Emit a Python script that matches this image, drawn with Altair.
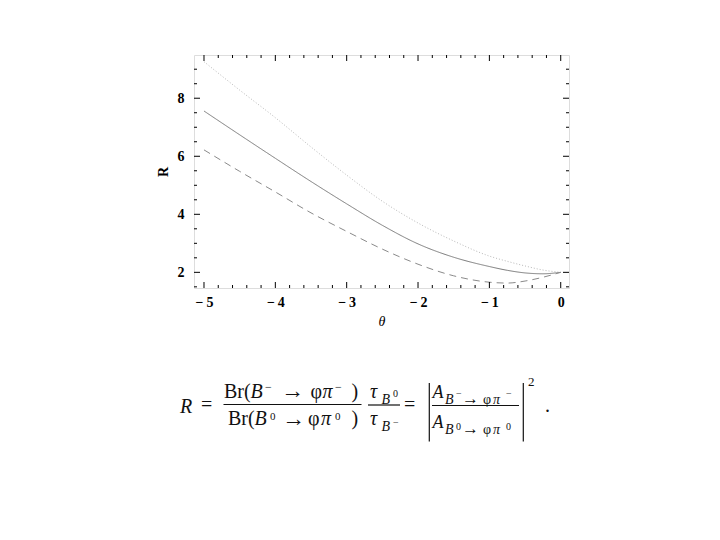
import altair as alt
import pandas as pd

# ---- chart data ----
theta = [-5.0, -4.5, -4.0, -3.5, -3.0, -2.5, -2.0, -1.5, -1.0, -0.75, -0.5, -0.25, 0.0]
r_solid = [7.56, 6.74, 5.93, 5.13, 4.36, 3.62, 2.98, 2.52, 2.20, 2.07, 1.98, 1.95, 2.00]
r_dotted = [9.26, 8.28, 7.33, 6.32, 5.35, 4.45, 3.70, 3.08, 2.56, 2.38, 2.22, 2.08, 2.00]
r_dashed = [6.22, 5.48, 4.77, 4.05, 3.41, 2.80, 2.28, 1.88, 1.66, 1.63, 1.70, 1.83, 2.00]

x_major = [-5, -4, -3, -2, -1, 0]
x_minor = [round(-5 + 0.2 * i, 1) for i in range(26) if i % 5 != 0]
y_major = [2, 4, 6, 8]
y_minor = [1.5, 2.5, 3, 3.5, 4.5, 5, 5.5, 6.5, 7, 7.5, 8.5, 9]

W, H = 375, 233
OX, OY = 194, 55  # plot origin on the page
SERIF = "Liberation Serif"

xscale = alt.Scale(domain=[-5.14, 0.116], nice=False, zero=False)
yscale = alt.Scale(domain=[1.46, 9.49], nice=False, zero=False)

x_axis = alt.Axis(values=x_major, ticks=False, domain=False, grid=False,
                  labelExpr="datum.value < 0 ? '\u2212\u2009' + abs(datum.value) : datum.label",
                  labelFont=SERIF, labelFontWeight="bold", labelFontSize=14,
                  labelColor="black", labelPadding=7,
                  title="θ", titleFont=SERIF, titleFontStyle="italic",
                  titleFontWeight="normal", titleFontSize=14, titleColor="black",
                  titlePadding=5)
y_axis = alt.Axis(values=y_major, ticks=False, domain=False, grid=False,
                  labelFont=SERIF, labelFontWeight="bold", labelFontSize=14,
                  labelColor="black", labelPadding=10,
                  title="R", titleFont=SERIF, titleFontWeight="bold",
                  titleFontSize=14, titleColor="black", titlePadding=7)


def line_layer(values, color, dash, width=1.0):
    df = pd.DataFrame({"theta": theta, "R": values})
    return alt.Chart(df).mark_line(color=color, strokeWidth=width,
                                   strokeDash=dash, interpolate="monotone").encode(
        x=alt.X("theta:Q", scale=xscale, axis=x_axis),
        y=alt.Y("R:Q", scale=yscale, axis=y_axis),
    )


lines = [
    line_layer(r_dotted, "#b8b8b8", [1, 2]),
    line_layer(r_solid, "#7a7a7a", [1, 0]),
    line_layer(r_dashed, "#8a8a8a", [7, 5]),
]


def xtick_layer(vals, length, top):
    df = pd.DataFrame({"v": vals})
    y0 = 0 if top else H
    y1 = length if top else H - length
    return alt.Chart(df).mark_rule(color="black", strokeWidth=1).encode(
        x=alt.X("v:Q", scale=xscale, axis=x_axis),
        y=alt.value(y0), y2=alt.value(y1))


def ytick_layer(vals, length, right):
    df = pd.DataFrame({"v": vals})
    x0 = W if right else 0
    x1 = W - length if right else length
    return alt.Chart(df).mark_rule(color="black", strokeWidth=1).encode(
        y=alt.Y("v:Q", scale=yscale, axis=y_axis),
        x=alt.value(x0), x2=alt.value(x1))


ticks = [
    xtick_layer(x_major, 6, False), xtick_layer(x_minor, 3, False),
    xtick_layer(x_major, 6, True), xtick_layer(x_minor, 3, True),
    ytick_layer(y_major, 6, False), ytick_layer(y_minor, 3, False),
    ytick_layer(y_major, 6, True), ytick_layer(y_minor, 3, True),
]

# ---- equation below the plot (layout in page pixels) ----
one = pd.DataFrame({"a": [0]})
S, s, ss = 20, 14, 11
# (text, page_x, page_baseline, size, italic)
eq_pieces = [
    ("R", 180, 412.5, S, True),
    ("=", 201, 411, S, False),
    # numerator 1
    ("Br(", 224, 397.5, S, False), ("B", 250.5, 397.5, S, True),
    ("−", 265, 391, 12, False), ("→", 281, 398, 23, False),
    ("φ", 310.5, 397.5, S, False), ("π", 322.5, 397.5, S, True),
    ("−", 335, 391, 12, False), (")", 351.5, 397.5, S, False),
    # denominator 1
    ("Br(", 228, 425, S, False), ("B", 254.5, 425, S, True),
    ("0", 270, 419.5, ss, False), ("→", 282, 425.5, 23, False),
    ("φ", 308, 425, S, False), ("π", 321, 425, S, True),
    ("0", 335, 419.5, ss, False), (")", 351.5, 425, S, False),
    # fraction 2
    ("τ", 370, 398, S, True), ("B", 381.5, 403.5, s, True), ("0", 393, 397, 10, False),
    ("τ", 370, 425, S, True), ("B", 381.5, 430.5, s, True), ("−", 393, 426, 10, False),
    ("=", 404, 411, S, False),
    # fraction 3 numerator
    ("A", 432.5, 398, 18, True), ("B", 445, 403.5, s, True), ("−", 456, 397, 10, False),
    ("→", 462, 404, 17, False), ("φ", 483, 403.5, s, False),
    ("π", 493, 403.5, s, True), ("−", 506, 397, 10, False),
    # fraction 3 denominator
    ("A", 432.5, 427.5, 18, True), ("B", 445, 433.5, s, True), ("0", 456, 429.5, 10, False),
    ("→", 462, 434, 17, False), ("φ", 483, 433.5, s, False),
    ("π", 493, 433.5, s, True), ("0", 506, 429.5, 10, False),
    ("2", 528, 386, 13, False),
    (".", 545, 412, S, False),
]

eq_rules = [  # (x1, x2, y1, y2) in page pixels
    (223.5, 361.5, 404.5, 404.5),
    (368, 400, 405, 405),
    (432, 519, 405.5, 405.5),
    (429.3, 429.3, 383, 441.5),
    (523.3, 523.3, 383, 441.5),
]

eq_layers = []
for txt, px, py, size, ital in eq_pieces:
    eq_layers.append(
        alt.Chart(one).mark_text(text=txt, font=SERIF, fontSize=size,
                                 fontStyle="italic" if ital else "normal",
                                 align="left", baseline="alphabetic",
                                 color="#111111").encode(
            x=alt.value(px - OX), y=alt.value(py - OY)))
for x1, x2, y1, y2 in eq_rules:
    eq_layers.append(
        alt.Chart(one).mark_rule(color="#111111", strokeWidth=1.2).encode(
            x=alt.value(x1 - OX), x2=alt.value(x2 - OX),
            y=alt.value(y1 - OY), y2=alt.value(y2 - OY)))

chart = alt.layer(*lines, *ticks, *eq_layers).properties(
    width=W, height=H,
    autosize=alt.AutoSizeParams(type="none"),
    padding={"left": OX - 8, "top": OY - 8, "right": 130, "bottom": 190},
).configure_view(stroke="black", strokeWidth=1).configure(background="white")

chart.save("out.html", embed_options={"renderer": "svg", "actions": False})
